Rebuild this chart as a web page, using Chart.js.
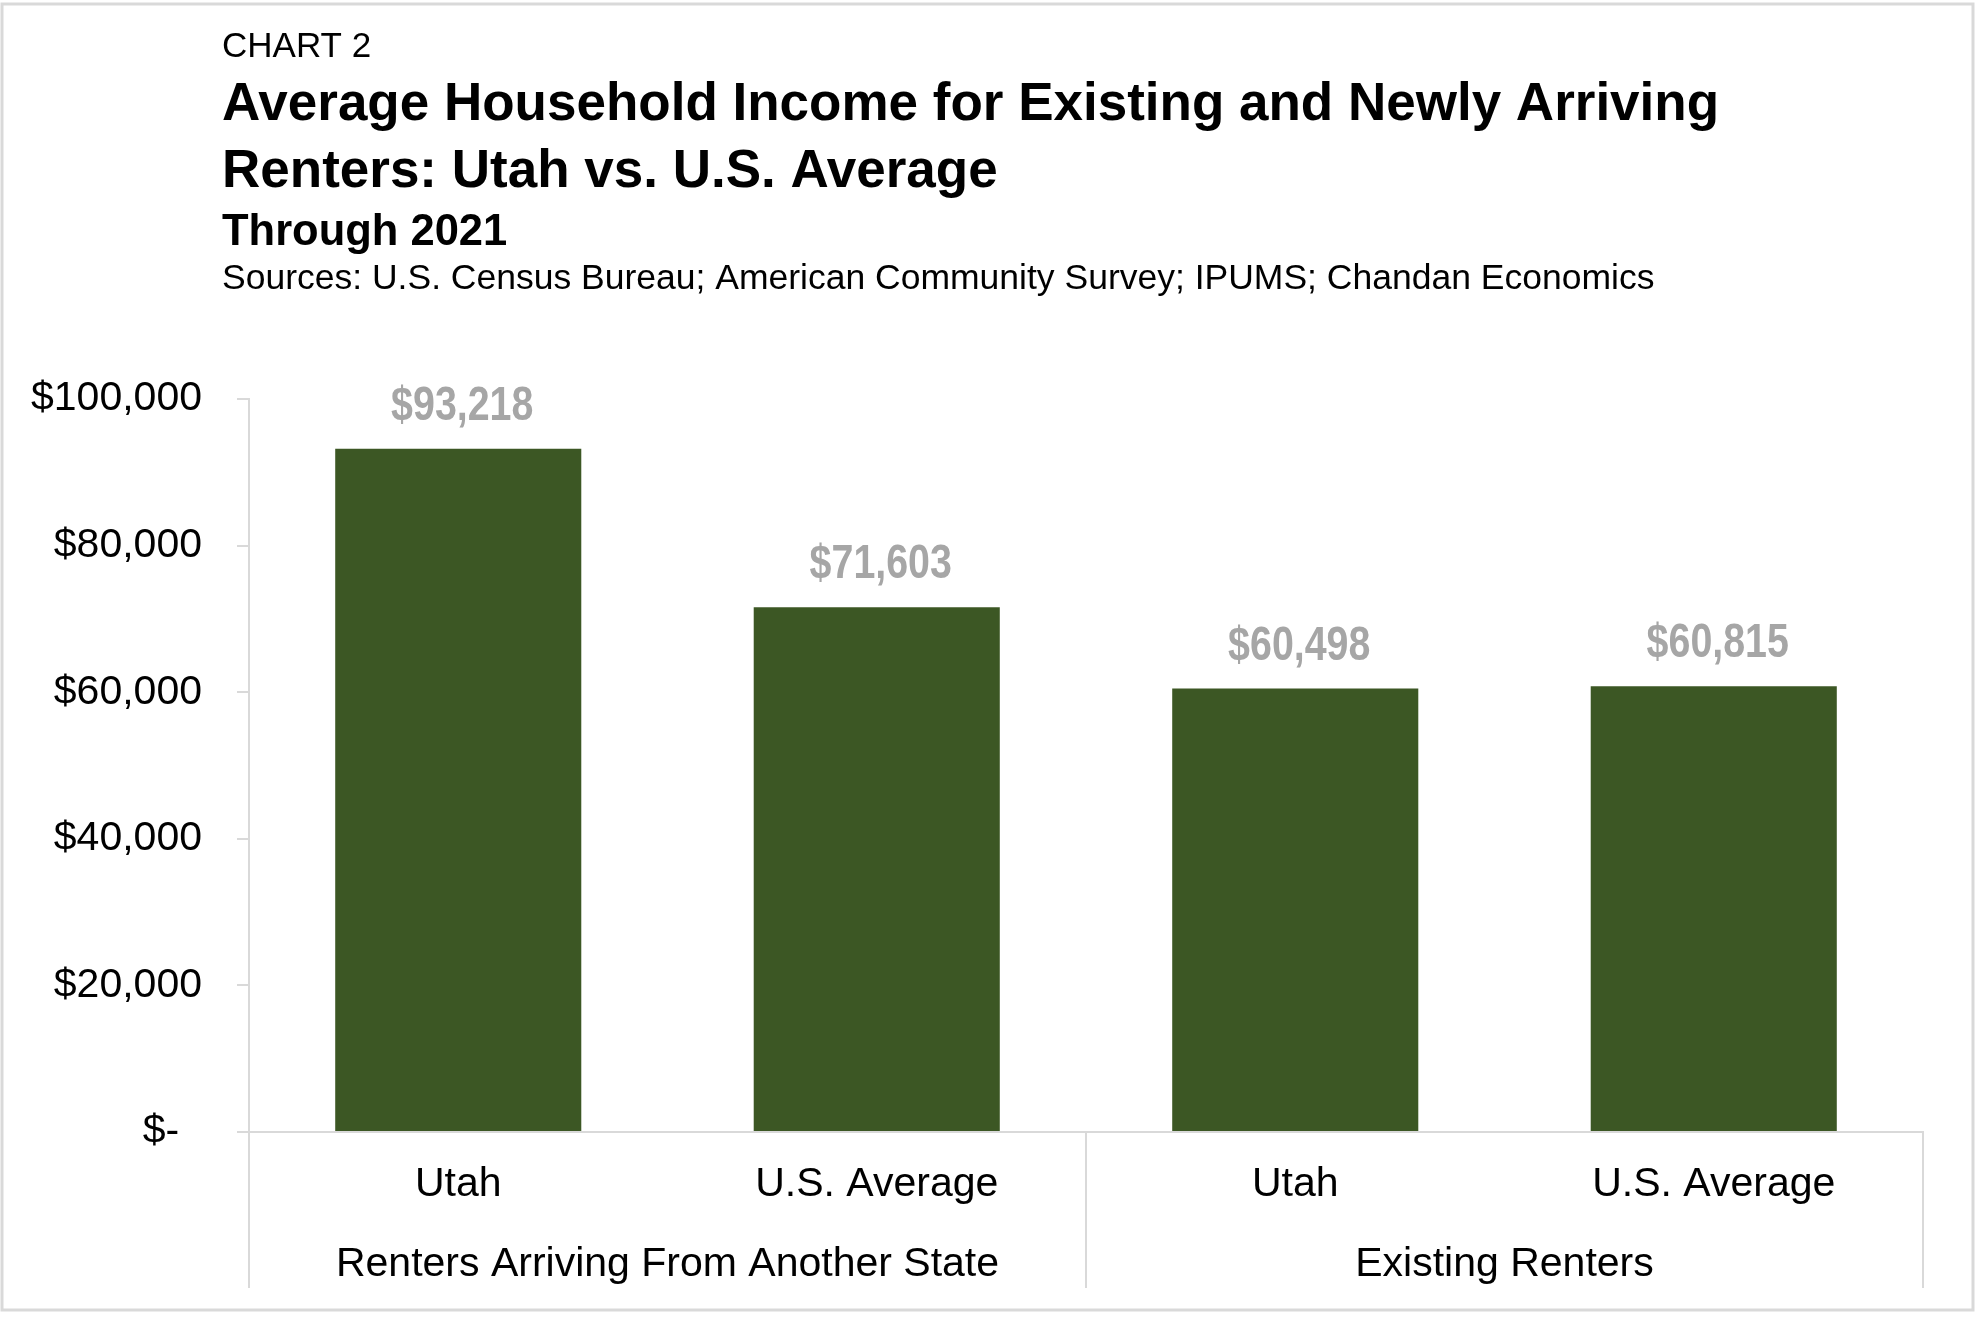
<!DOCTYPE html>
<html>
<head>
<meta charset="utf-8">
<script src="https://cdn.jsdelivr.net/npm/chart.js@4.4.1/dist/chart.umd.min.js"></script>
<style>
  html, body { margin: 0; padding: 0; background: #fff; }
  canvas { display: block; }
</style>
</head>
<body>
<canvas id="chart" width="1980" height="1320"></canvas>
<script>
// data
const categories = ['Utah', 'U.S. Average', 'Utah', 'U.S. Average'];
const groups = ['Renters Arriving From Another State', 'Existing Renters'];
const incomes = [93218, 71603, 60498, 60815];
const yTickValues = [0, 20000, 40000, 60000, 80000, 100000];
const yTickLabels = ['$-\u2007', '$20,000', '$40,000', '$60,000', '$80,000', '$100,000'];

const FONT = '"Liberation Sans", Arial, Helvetica, sans-serif';
const GREEN = '#3c5724';
const LINE = '#d9d9d9';

// titles, frame, group labels and separators
const decorPlugin = {
    id: 'decor',
    beforeDraw(chart) {
        const ctx = chart.ctx;
        ctx.save();
        ctx.fillStyle = '#fff';
        ctx.fillRect(0, 0, chart.width, chart.height);
        ctx.strokeStyle = LINE;
        ctx.lineWidth = 3;
        ctx.strokeRect(2, 4, 1971, 1306);

        ctx.fillStyle = '#000';
        ctx.textAlign = 'left';
        ctx.textBaseline = 'alphabetic';
        ctx.font = '35px ' + FONT;
        ctx.fillText('CHART 2', 222, 57);
        ctx.font = 'bold 53px ' + FONT;
        ctx.fillText('Average Household Income for Existing and Newly Arriving', 222, 120);
        ctx.fillText('Renters: Utah vs. U.S. Average', 222, 187);
        ctx.font = 'bold 43.5px ' + FONT;
        ctx.fillText('Through 2021', 222, 245);
        ctx.font = '35.5px ' + FONT;
        ctx.fillText('Sources: U.S. Census Bureau; American Community Survey; IPUMS; Chandan Economics', 222, 289);
        ctx.restore();
    },
    afterDraw(chart) {
        const ctx = chart.ctx;
        const area = chart.chartArea;
        const x = chart.scales.x;
        const bottom = 1288;
        ctx.save();
        // group separators below the axis
        const mid = (x.getPixelForValue(1) + x.getPixelForValue(2)) / 2;
        ctx.strokeStyle = LINE;
        ctx.lineWidth = 2;
        ctx.beginPath();
        [area.left, mid, area.right].forEach(px => {
            ctx.moveTo(px, area.bottom);
            ctx.lineTo(px, bottom);
        });
        ctx.stroke();

        // group labels
        ctx.fillStyle = '#000';
        ctx.font = '41px ' + FONT;
        ctx.textAlign = 'center';
        ctx.textBaseline = 'alphabetic';
        ctx.fillText(groups[0], (area.left + mid) / 2, 1276);
        ctx.fillText(groups[1], (mid + area.right) / 2, 1276);

        // value labels above the bars, condensed bold grey
        const meta = chart.getDatasetMeta(0);
        ctx.fillStyle = '#a6a6a6';
        ctx.font = 'bold 48px ' + FONT;
        meta.data.forEach((bar, i) => {
            const txt = '$' + incomes[i].toLocaleString('en-US');
            ctx.save();
            ctx.translate(bar.x + 4, bar.y - 29);
            ctx.scale(0.82, 1);
            ctx.fillText(txt, 0, 0);
            ctx.restore();
        });
        ctx.restore();
    }
};

new Chart(document.getElementById('chart'), {
    type: 'bar',
    data: {
        labels: categories,
        datasets: [{
            data: incomes,
            backgroundColor: GREEN,
            borderWidth: 0,
            categoryPercentage: 1,
            barPercentage: 0.588
        }]
    },
    options: {
        responsive: false,
        devicePixelRatio: 1,
        animation: false,
        layout: { padding: { top: 399, right: 57, left: 0, bottom: 0 } },
        plugins: {
            legend: { display: false },
            tooltip: { enabled: false }
        },
        scales: {
            x: {
                afterFit(scale) { scale.height = 188; },
                grid: { display: false },
                border: { display: true, color: LINE, width: 2 },
                ticks: {
                    color: '#000',
                    font: { family: FONT, size: 41 },
                    padding: 20,
                    maxRotation: 0
                }
            },
            y: {
                min: 0,
                max: 100000,
                afterFit(scale) { scale.width = 249; },
                afterBuildTicks(scale) {
                    scale.ticks = yTickValues.map(v => ({ value: v }));
                },
                grid: {
                    drawOnChartArea: false,
                    drawTicks: true,
                    tickLength: 12,
                    color: LINE,
                    lineWidth: 2
                },
                border: { display: true, color: LINE, width: 2 },
                ticks: {
                    color: '#000',
                    font: { family: FONT, size: 41 },
                    padding: 35,
                    callback: (v) => yTickLabels[yTickValues.indexOf(v)]
                }
            }
        }
    },
    plugins: [decorPlugin]
});
</script>
</body>
</html>
